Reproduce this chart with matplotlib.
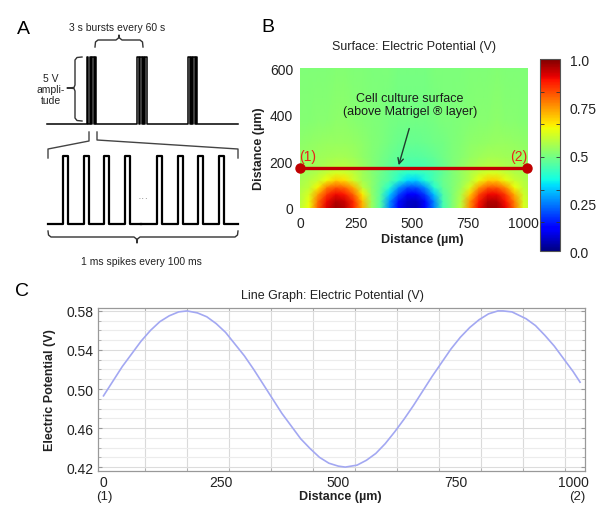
import numpy as np
import matplotlib
matplotlib.use('Agg')
import matplotlib.pyplot as plt
from matplotlib.ticker import FixedLocator

plt.rcParams['font.family'] = ['Liberation Sans', 'DejaVu Sans']

# ---------------- data ----------------
# A: stimulation schematic
burst_onsets_s = [0, 60, 120]           # 3 s bursts every 60 s
burst_spike_offsets_s = [0, 3, 6, 9]    # spikes drawn inside one burst (schematic)
burst_spike_width_s = 1.8
amplitude_v = 5
spikes_first_ms = [0, 100, 200, 300]    # 1 ms spikes every 100 ms
spikes_last_ms = [2600, 2700, 2800, 2900]
spike_draw_ms = 24                      # drawn width of a spike (schematic)

# B: surface potential (V), rows = heights, cols = distance
field_x_um = [0, 40, 80, 120, 160, 200, 240, 280, 320, 360, 400, 440, 480, 520,
              560, 600, 640, 680, 720, 760, 800, 840, 880, 920, 960, 1000, 1040]
field_y_um = [0, 30, 60, 90, 120, 150, 170, 220, 280, 380, 600]
row_0 = [0.58, 0.64, 0.81, 0.92, 0.97, 0.95, 0.87, 0.73, 0.54, 0.45, 0.26, 0.13, 0.06, 0.05,
         0.12, 0.25, 0.43, 0.50, 0.58, 0.76, 0.90, 0.97, 0.97, 0.91, 0.79, 0.62, 0.57]
row_30 = [0.57, 0.63, 0.79, 0.90, 0.95, 0.93, 0.86, 0.71, 0.54, 0.45, 0.27, 0.14, 0.07, 0.06,
          0.13, 0.26, 0.44, 0.50, 0.57, 0.75, 0.88, 0.95, 0.95, 0.89, 0.77, 0.61, 0.57]
row_60 = [0.57, 0.61, 0.74, 0.85, 0.90, 0.88, 0.80, 0.66, 0.53, 0.46, 0.33, 0.20, 0.12, 0.12,
          0.19, 0.32, 0.45, 0.50, 0.56, 0.69, 0.83, 0.90, 0.90, 0.84, 0.72, 0.60, 0.56]
row_90 = [0.56, 0.58, 0.65, 0.77, 0.81, 0.79, 0.72, 0.58, 0.52, 0.47, 0.40, 0.28, 0.21, 0.21,
          0.27, 0.40, 0.47, 0.50, 0.54, 0.61, 0.74, 0.81, 0.81, 0.75, 0.64, 0.58, 0.56]
row_120 = [0.55, 0.57, 0.59, 0.64, 0.69, 0.67, 0.60, 0.55, 0.52, 0.48, 0.45, 0.40, 0.34, 0.33,
           0.39, 0.44, 0.48, 0.50, 0.53, 0.57, 0.63, 0.69, 0.69, 0.63, 0.59, 0.57, 0.55]
row_150 = [0.545, 0.55, 0.57, 0.59, 0.61, 0.605, 0.58, 0.545, 0.515, 0.485, 0.455, 0.425, 0.40, 0.40,
           0.415, 0.44, 0.47, 0.50, 0.53, 0.56, 0.59, 0.61, 0.61, 0.59, 0.57, 0.555, 0.545]
row_170 = [0.54, 0.545, 0.55, 0.565, 0.575, 0.575, 0.565, 0.54, 0.515, 0.49, 0.465, 0.445, 0.43, 0.43,
           0.435, 0.45, 0.475, 0.50, 0.525, 0.55, 0.565, 0.575, 0.575, 0.565, 0.555, 0.545, 0.54]
row_220 = [0.53, 0.535, 0.54, 0.545, 0.55, 0.55, 0.54, 0.525, 0.51, 0.495, 0.48, 0.465, 0.455, 0.455,
           0.46, 0.47, 0.485, 0.50, 0.515, 0.53, 0.54, 0.55, 0.55, 0.545, 0.54, 0.535, 0.53]
row_280 = [0.52, 0.525, 0.53, 0.535, 0.535, 0.535, 0.53, 0.52, 0.51, 0.50, 0.49, 0.48, 0.475, 0.475,
           0.48, 0.485, 0.49, 0.50, 0.51, 0.52, 0.525, 0.53, 0.535, 0.535, 0.53, 0.525, 0.52]
row_380 = [0.51, 0.51, 0.515, 0.515, 0.52, 0.52, 0.515, 0.51, 0.505, 0.50, 0.495, 0.49, 0.49, 0.49,
           0.49, 0.495, 0.50, 0.50, 0.505, 0.51, 0.515, 0.515, 0.52, 0.515, 0.515, 0.51, 0.51]
row_600 = [0.505, 0.505, 0.505, 0.505, 0.51, 0.51, 0.505, 0.505, 0.50, 0.50, 0.50, 0.495, 0.495, 0.495,
           0.495, 0.50, 0.50, 0.50, 0.50, 0.505, 0.505, 0.505, 0.51, 0.505, 0.505, 0.505, 0.505]
cut_line_x_um = [0, 1015]
cut_line_y_um = 170

# C: potential along the cut line
line_x_um = [0, 20, 40, 60, 80, 100, 120, 140, 160, 178, 200, 220, 240, 260, 280, 300,
             320, 340, 360, 380, 400, 420, 440, 460, 480, 500, 515, 540, 560, 580, 600,
             620, 640, 660, 680, 700, 720, 740, 760, 780, 800, 820, 840, 851, 870, 900,
             920, 940, 960, 980, 1000, 1015]
line_v = [0.493, 0.508, 0.523, 0.536, 0.549, 0.560, 0.569, 0.575, 0.579, 0.580, 0.578,
          0.574, 0.567, 0.558, 0.546, 0.534, 0.520, 0.505, 0.490, 0.475, 0.462, 0.449,
          0.439, 0.430, 0.424, 0.421, 0.420, 0.422, 0.427, 0.434, 0.444, 0.456, 0.469,
          0.483, 0.498, 0.513, 0.527, 0.541, 0.553, 0.563, 0.571, 0.577, 0.580, 0.580,
          0.579, 0.572, 0.565, 0.555, 0.544, 0.531, 0.518, 0.507]
dist_ticks = [0, 250, 500, 750, 1000]
pot_ticks = [0.42, 0.46, 0.50, 0.54, 0.58]

# ---------------- layout helpers (pixels) ----------------
W, H = 600, 506
fig = plt.figure(figsize=(6, 5.06), dpi=100)


def box(x0, y0, x1, y1):
    return [x0 / W, 1 - y1 / H, (x1 - x0) / W, (y1 - y0) / H]


def fxy(x, y):
    return x / W, 1 - y / H


ink = '#222222'

# ---------------- A ----------------
axT = fig.add_axes(box(47, 58, 238, 125))
axT.set_xlim(-47.5, 179.4)
axT.set_ylim(0, amplitude_v)
axT.axis('off')
t, v = [axT.get_xlim()[0]], [0]
for b in burst_onsets_s:
    for o in burst_spike_offsets_s:
        t += [b + o, b + o, b + o + burst_spike_width_s, b + o + burst_spike_width_s]
        v += [0, amplitude_v, amplitude_v, 0]
t.append(axT.get_xlim()[1])
v.append(0)
axT.plot(t, v, color='black', lw=1.1, clip_on=False)

for onsets, x0, x1, lim in [(spikes_first_ms, 48, 141, (-72.5, 376.8)),
                            (spikes_last_ms, 141, 238, (2522.7, 2991.3))]:
    ax = fig.add_axes(box(x0, 157, x1, 225))
    ax.set_xlim(*lim)
    ax.set_ylim(0, amplitude_v)
    ax.axis('off')
    t, v = [lim[0]], [0]
    for s in onsets:
        t += [s, s, s + spike_draw_ms, s + spike_draw_ms]
        v += [0, amplitude_v, amplitude_v, 0]
    t.append(lim[1])
    v.append(0)
    ax.plot(t, v, color='black', lw=1.6, clip_on=False, solid_joinstyle='round')

# brackets and labels (overlay in pixel coordinates)
axO = fig.add_axes([0, 0, 1, 1])
axO.set_xlim(0, W)
axO.set_ylim(H, 0)
axO.axis('off')
br = dict(color='#333333', lw=1.0, solid_joinstyle='round')
axO.plot([95, 95.5, 98, 116, 118.5, 119, 119.5, 122, 140, 142.5, 143],
         [48, 43, 41, 41, 39, 36, 39, 41, 41, 43, 48], **br)
axO.plot([82, 77, 75, 75, 74, 67, 74, 75, 75, 77, 82],
         [58, 58.5, 61, 86, 88.5, 89, 89.5, 92, 119, 121.5, 122], **br)
axO.plot([89, 89, 48, 48], [133, 142, 150, 159], color='#444444', lw=1.0)
axO.plot([97, 97, 238, 238], [133, 141, 150, 159], color='#444444', lw=1.0)
axO.plot([48, 48.5, 51, 134, 136.5, 137, 137.5, 140, 235, 237.5, 238],
         [232, 236, 238, 238, 240, 244, 240, 238, 238, 236, 232], **br)
fig.text(*fxy(23, 29), 'A', fontsize=14, ha='center', va='center', color='black')
fig.text(*fxy(117, 28), '3 s bursts every 60 s', fontsize=7.5, ha='center', va='center', color=ink)
fig.text(*fxy(51, 90), '5 V\nampli-\ntude', fontsize=7.5, ha='center', va='center',
         ma='center', linespacing=1.15, color=ink)
fig.text(*fxy(143, 199), '···', fontsize=8, ha='center', va='center', color='#888888')
fig.text(*fxy(141, 262), '1 ms spikes every 100 ms', fontsize=7.5, ha='center', va='center', color=ink)

# ---------------- B ----------------
axB = fig.add_axes(box(300, 69, 528, 209))
field = np.array([row_0, row_30, row_60, row_90, row_120, row_150, row_170,
                  row_220, row_280, row_380, row_600])
mesh = axB.pcolormesh(field_x_um, field_y_um, field, shading='gouraud',
                      cmap='jet', vmin=0, vmax=1)
axB.set_xlim(0, 1020)
axB.set_ylim(0, 600)
for s in axB.spines.values():
    s.set_visible(False)
axB.set_xticks(dist_ticks)
axB.set_yticks([0, 200, 400, 600])
axB.tick_params(length=0, labelsize=10, colors=ink)
axB.tick_params(axis='x', pad=6)
axB.tick_params(axis='y', pad=5)
axB.plot(cut_line_x_um, [cut_line_y_um, cut_line_y_um], color='#c00000', lw=2.4,
         marker='o', ms=6.5, clip_on=False, zorder=5)
axB.text(36, 222, '(1)', color='#e8231b', fontsize=10, ha='center', va='center')
axB.text(978, 222, '(2)', color='#e8231b', fontsize=10, ha='center', va='center')
axB.text(492, 444, 'Cell culture surface\n(above Matrigel ® layer)', fontsize=9,
         ha='center', va='center', linespacing=1.2, color='#1a1a1a')
axB.annotate('', xy=(438, cut_line_y_um + 2), xytext=(492, 352),
             arrowprops=dict(arrowstyle='->', color='#1f3d2e', lw=1.0, mutation_scale=10))
fig.text(*fxy(268, 27), 'B', fontsize=14, ha='center', va='center', color='black')
fig.text(*fxy(414, 47), 'Surface: Electric Potential (V)', fontsize=9, ha='center',
         va='center', color=ink)
fig.text(*fxy(422, 240), 'Distance (µm)', fontsize=9, fontweight='bold', ha='center',
         va='center', color=ink)
fig.text(*fxy(259, 149), 'Distance (µm)', fontsize=9, fontweight='bold', ha='center',
         va='center', rotation=90, color=ink)

cax = fig.add_axes(box(540, 60, 560, 252))
cb = fig.colorbar(mesh, cax=cax)
cb.set_ticks([0, 0.25, 0.5, 0.75, 1.0])
cb.set_ticklabels(['0.0', '0.25', '0.5', '0.75', '1.0'])
cb.outline.set_edgecolor('#555555')
cb.outline.set_linewidth(0.8)
cax.yaxis.set_minor_locator(FixedLocator([0.15, 0.32, 0.49, 0.66, 0.83]))
cax.tick_params(which='major', length=0, labelsize=10, colors=ink, pad=7)
cax.tick_params(which='minor', direction='in', length=3, color='#333333',
                left=True, right=True)

# ---------------- C ----------------
axC = fig.add_axes(box(98, 309, 585, 472))
axC.plot(line_x_um, line_v, color='#a3a8f2', lw=1.2)
axC.set_xlim(-11.7, 1025.5)
axC.set_ylim(0.416, 0.583)
axC.set_axisbelow(True)
axC.set_xticks(dist_ticks)
axC.set_xticks(np.arange(88.4, 1000, 89.5), minor=True)
axC.set_yticks(pot_ticks)
axC.set_yticklabels([f'{p:.2f}' for p in pot_ticks])
axC.set_yticks(np.arange(0.42, 0.585, 0.01), minor=True)
axC.grid(which='minor', axis='x', color='#dadada', lw=0.8)
axC.grid(which='minor', axis='y', color='#ececec', lw=0.8)
axC.grid(which='major', axis='y', color='#dcdcdc', lw=0.8)
for s in axC.spines.values():
    s.set_color('#999999')
    s.set_linewidth(0.9)
axC.tick_params(axis='x', which='major', length=0, pad=3, labelsize=10, colors=ink)
axC.tick_params(axis='y', which='major', direction='in', length=3, color='#999999',
                left=True, right=True, pad=3, labelsize=10, labelcolor=ink)
axC.tick_params(which='minor', direction='in', length=2.5, color='#aaaaaa',
                left=True, right=True, top=True, bottom=True)
fig.text(*fxy(104, 497), '(1)', fontsize=9.5, ha='center', va='center', color=ink)
fig.text(*fxy(577, 497), '(2)', fontsize=9.5, ha='center', va='center', color=ink)
fig.text(*fxy(22, 292), 'C', fontsize=14, ha='center', va='center', color='black')
fig.text(*fxy(332, 296), 'Line Graph: Electric Potential (V)', fontsize=9, ha='center',
         va='center', color=ink)
fig.text(*fxy(340, 497), 'Distance (µm)', fontsize=9, fontweight='bold', ha='center',
         va='center', color=ink)
fig.text(*fxy(50, 390), 'Electric Potential (V)', fontsize=9, fontweight='bold',
         ha='center', va='center', rotation=90, color=ink)

fig.savefig('out.png', dpi=100)
